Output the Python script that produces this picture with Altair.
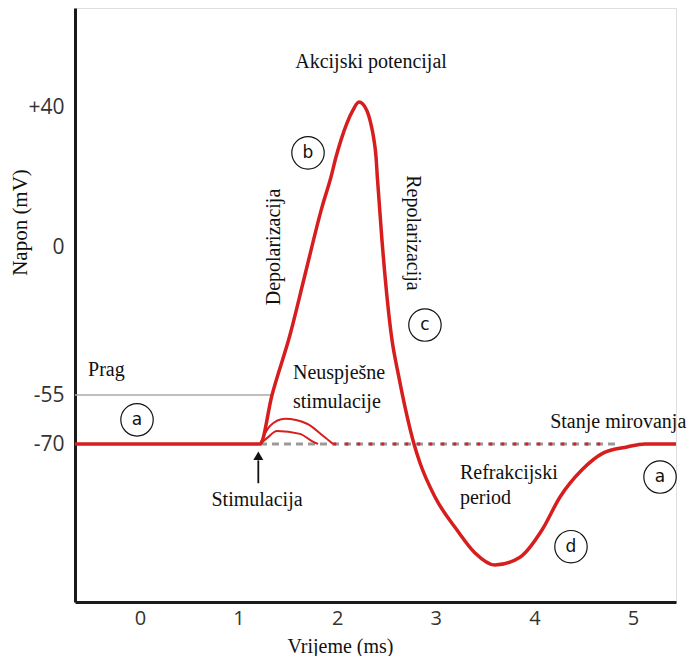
import altair as alt
import pandas as pd

# ---- data (time in ms, voltage in mV) ----
ap_t = [-0.66, 1.217, 1.339, 1.521, 1.673, 1.846, 1.937, 1.988, 2.039, 2.099, 2.160, 2.221,
        2.299, 2.340, 2.373, 2.394, 2.407, 2.454, 2.556, 2.617, 2.688, 2.779, 2.840, 2.992,
        3.215, 3.398, 3.600, 3.854, 4.077, 4.260, 4.483, 4.696, 4.939, 5.12, 5.436]
ap_v = [-70, -70, -55, -32.7, -10.4, 11.4, 20.0, 25.7, 30.6, 35.4, 39.1, 41.4,
        39.1, 35.4, 30.6, 25.7, 20.0, 2.0, -34.6, -46.8, -58.7, -70, -75.8, -86.2,
        -96.3, -103.3, -107.0, -104.6, -96.3, -86.2, -77.9, -72.8, -70.9, -70, -70]

fail1_t = [1.217, 1.318, 1.471, 1.694, 1.856, 1.957]
fail1_v = [-70, -64.5, -62.3, -63.8, -67.5, -70]
fail2_t = [1.217, 1.288, 1.389, 1.623, 1.744, 1.805]
fail2_v = [-70, -68.2, -66.0, -66.9, -69.1, -70]

rest_t = [1.217, 4.85]
rest_v = [-70, -70]
rest_red_t = [1.96, 4.70]
thresh_t = [-0.66, 1.33]
thresh_v = [-55, -55]

y_ticks = [40, 0, -55, -70]
x_ticks = [0, 1, 2, 3, 4, 5]

labels_left = ["Prag", "Neuspješne", "stimulacije", "Refrakcijski", "period"]
labels_left_t = [-0.527, 1.552, 1.552, 3.245, 3.245]
labels_left_v = [-45.7, -46.8, -57.1, -78.9, -86.5]

labels_center = ["Akcijski potencijal", "Stimulacija", "Stanje mirovanja"]
labels_center_t = [2.343, 1.187, 4.85]
labels_center_v = [52.9, -87.1, -63.3]

circ_letters = ["b", "c", "a", "a", "d"]
circ_t = [1.704, 2.890, -0.030, 5.274, 4.371]
circ_v = [26.9, -29.0, -62.6, -80.1, -101.4]

RED = "#d71e1e"
SERIF = "Liberation Serif"

xs = alt.Scale(domain=[-0.659, 5.436], nice=False, zero=False)
ys = alt.Scale(domain=[-118.3, -70, -55, 0, 40, 68.3], range=[594, 436, 387, 239, 99, 0],
               nice=False, zero=False)

X = alt.X("t:Q", scale=xs, axis=alt.Axis(
    values=x_ticks, format="d", ticks=False, grid=False, labelFont="Open Sans", labelFontSize=20,
    labelColor="#333", labelPadding=6, domainColor="#1a1a1a", domainWidth=3,
    title="Vrijeme (ms)", titleFont=SERIF, titleFontSize=20, titleFontWeight="normal",
    titleColor="#111", titleX=265, titleY=44, titleBaseline="middle", titleAlign="center"))
Y = alt.Y("v:Q", scale=ys, axis=alt.Axis(
    values=y_ticks, ticks=False, grid=False, labelFont="Open Sans", labelFontSize=21,
    labelColor="#333", labelPadding=11,
    labelExpr="datum.value > 0 ? '+' + datum.value : '' + datum.value",
    domainColor="#1a1a1a", domainWidth=3,
    title="Napon (mV)", titleFont=SERIF, titleFontSize=21, titleFontWeight="normal",
    titleColor="#111", titleX=-55, titleY=214, titleBaseline="middle", titleAlign="center",
    titleAngle=270))

def df(t, v):
    return pd.DataFrame({"t": t, "v": v})

base_axes = alt.Chart(df(ap_t, ap_v)).mark_line(opacity=0).encode(x=X, y=Y)

thresh = alt.Chart(df(thresh_t, thresh_v)).mark_line(color="#aaaaaa", strokeWidth=1.5).encode(
    x="t:Q", y="v:Q")
rest = alt.Chart(df(rest_t, rest_v)).mark_line(color="#9a9a9a", strokeWidth=3,
                                                strokeDash=[7, 5]).encode(x="t:Q", y="v:Q")
rest_red = alt.Chart(df(rest_red_t, rest_v)).mark_line(color=RED, strokeWidth=3,
                                                        strokeDash=[3, 9]).encode(x="t:Q", y="v:Q")
f1 = alt.Chart(df(fail1_t, fail1_v)).mark_line(color=RED, strokeWidth=2,
                                                interpolate="monotone").encode(x="t:Q", y="v:Q")
f2 = alt.Chart(df(fail2_t, fail2_v)).mark_line(color=RED, strokeWidth=2,
                                                interpolate="monotone").encode(x="t:Q", y="v:Q")
ap = alt.Chart(df(ap_t, ap_v)).mark_line(color=RED, strokeWidth=3.5,
                                          interpolate="monotone").encode(x="t:Q", y="v:Q")

arrow_shaft = alt.Chart(pd.DataFrame({"t": [1.2], "v": [-75.0], "v2": [-82.0]})).mark_rule(
    color="#111", strokeWidth=1.8).encode(x="t:Q", y="v:Q", y2="v2:Q")
arrow_head = alt.Chart(pd.DataFrame({"t": [1.2], "v": [-73.6]})).mark_point(
    shape="triangle-up", filled=True, color="#111", size=100, opacity=1).encode(x="t:Q", y="v:Q")

txt_left = alt.Chart(pd.DataFrame({"t": labels_left_t, "v": labels_left_v, "s": labels_left})).mark_text(
    font=SERIF, fontSize=20, align="left", baseline="middle", color="#111").encode(
    x="t:Q", y="v:Q", text="s:N")
txt_center = alt.Chart(pd.DataFrame({"t": labels_center_t, "v": labels_center_v, "s": labels_center})).mark_text(
    font=SERIF, fontSize=20, align="center", baseline="middle", color="#111").encode(
    x="t:Q", y="v:Q", text="s:N")
txt_dep = alt.Chart(pd.DataFrame({"t": [1.359], "v": [0.0], "s": ["Depolarizacija"]})).mark_text(
    font=SERIF, fontSize=20, align="center", baseline="middle", angle=270, color="#111").encode(
    x="t:Q", y="v:Q", text="s:N")
txt_rep = alt.Chart(pd.DataFrame({"t": [2.769], "v": [4.0], "s": ["Repolarizacija"]})).mark_text(
    font=SERIF, fontSize=20, align="center", baseline="middle", angle=90, color="#111").encode(
    x="t:Q", y="v:Q", text="s:N")

circ_df = pd.DataFrame({"t": circ_t, "v": circ_v, "s": circ_letters})
circles = alt.Chart(circ_df).mark_point(shape="circle", filled=False, color="#111",
                                        strokeWidth=1.2, size=1050, opacity=1).encode(x="t:Q", y="v:Q")
circ_txt = alt.Chart(circ_df).mark_text(font="DejaVu Sans", fontSize=17, align="center",
                                        baseline="middle", color="#111").encode(
    x="t:Q", y="v:Q", text="s:N")

chart = alt.layer(base_axes, thresh, rest, rest_red, f1, f2, ap, arrow_shaft, arrow_head,
                  txt_left, txt_center, txt_dep, txt_rep, circles, circ_txt).properties(
    width=601, height=594, autosize="none",
    padding={"left": 67, "top": 0, "right": 12, "bottom": 54},
).configure_view(stroke=None).configure(background="white")

chart.save("out.html", embed_options={"renderer": "svg", "actions": False})
